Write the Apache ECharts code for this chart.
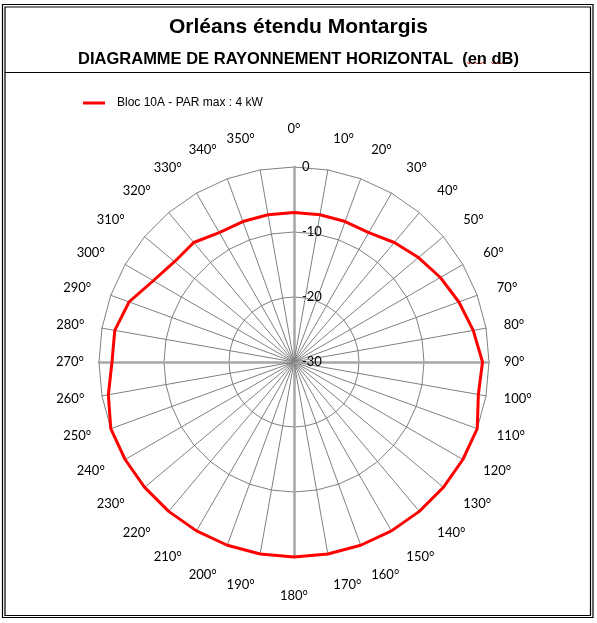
<!DOCTYPE html>
<html>
<head>
<meta charset="utf-8">
<script src="https://cdn.jsdelivr.net/npm/echarts@6/dist/echarts.min.js"></script>
<style>
html, body { margin: 0; padding: 0; background: #fff; }
#diagramme { width: 597px; height: 623px; }
</style>
</head>
<body>
<div id="diagramme"></div>
<script>
// libelles des azimuts (sens horaire depuis le nord)
var azimuts = ['0°', '10°', '20°', '30°', '40°', '50°', '60°', '70°', '80°',
               '90°', '100°', '110°', '120°', '130°', '140°', '150°', '160°', '170°',
               '180°', '190°', '200°', '210°', '220°', '230°', '240°', '250°', '260°',
               '270°', '280°', '290°', '300°', '310°', '320°', '330°', '340°', '350°'];
// attenuation en dB pour chaque azimut
var attenuation = [-7, -7, -7, -7, -6, -5, -4, -3, -2,
                   -1, -1.2, 0, 0, 0, 0, 0, 0, 0,
                   0, 0, 0, 0, 0, 0, 0, 0, -1,
                   -2, -2, -3, -5, -6, -6, -7, -7, -7];
// graduations de l'axe radial
var graduations = [-30, -20, -10, 0];
var nomSerie = 'Bloc 10A - PAR max : 4 kW';

var myChart = echarts.init(document.getElementById('diagramme'));

// le radar d'echarts tourne dans le sens trigo : on inverse l'ordre
var ordre = azimuts.map(function (a, i) { return (azimuts.length - i) % azimuts.length; });
var axesForts = [0, 9, 18, 27];

var indicateurs = ordre.map(function (k) {
    var theta = k * Math.PI * 2 / azimuts.length;
    var ind = {
        name: azimuts[k],
        min: graduations[0],
        max: graduations[graduations.length - 1],
        // libelles plus ecartes en haut et en bas, comme dans excel
        nameGap: 15 + 17 * Math.abs(Math.cos(theta))
    };
    if (axesForts.indexOf(k) >= 0) {
        ind.axisLine = { lineStyle: { color: '#a6a6a6', width: 2.5 } };
    }
    if (k === 0) {
        ind.axisLabel = {
            show: true, align: 'left', margin: -8,
            color: '#000', fontSize: 13, fontFamily: 'Lato'
        };
    }
    return ind;
});
var valeurs = ordre.map(function (k) { return attenuation[k]; });

// soulignement rouge ondule sous "en" et "dB"
function vague(x0, x1, y) {
    var pts = [], up = true;
    for (var x = x0; x <= x1; x += 2) {
        pts.push([x, up ? y - 1 : y + 1]);
        up = !up;
    }
    return pts;
}

var option = {
    backgroundColor: '#fff',
    animation: false,
    title: [
        {
            text: 'Orléans étendu Montargis',
            left: 'center', top: 12,
            textStyle: { fontFamily: 'Liberation Sans', fontSize: 21, fontWeight: 'bold', color: '#000' }
        },
        {
            text: 'DIAGRAMME DE RAYONNEMENT HORIZONTAL  (en dB)',
            left: 'center', top: 46,
            textStyle: { fontFamily: 'Liberation Sans', fontSize: 16.5, fontWeight: 'bold', color: '#000' }
        }
    ],
    legend: {
        data: [nomSerie],
        left: 78, top: 92,
        icon: 'rect', itemWidth: 22, itemHeight: 3,
        textStyle: { fontFamily: 'Liberation Sans', fontSize: 12, color: '#000', padding: [0, 0, 0, 7] }
    },
    radar: {
        center: [294, 362],
        radius: 195,
        startAngle: 90,
        splitNumber: 3,
        shape: 'polygon',
        indicator: indicateurs,
        nameGap: 22,
        axisName: { color: '#000', fontSize: 13, fontFamily: 'Lato' },
        axisLine: { lineStyle: { color: '#808080', width: 1 } },
        splitLine: { lineStyle: { color: '#808080', width: 1 } },
        splitArea: { show: false },
        axisTick: { show: false },
        axisLabel: { show: false }
    },
    series: [{
        type: 'radar',
        name: nomSerie,
        symbol: 'none',
        lineStyle: { color: '#ff0000', width: 3 },
        itemStyle: { color: '#ff0000' },
        data: [{ name: nomSerie, value: valeurs }]
    }],
    graphic: [
        { type: 'rect', shape: { x: 2.5, y: 4.5, width: 590.5, height: 613 }, style: { fill: null, stroke: '#000', lineWidth: 1.2 } },
        { type: 'rect', shape: { x: 5, y: 7, width: 585.5, height: 608.5 }, style: { fill: null, stroke: '#000', lineWidth: 1.2 } },
        { type: 'line', shape: { x1: 5, y1: 72.5, x2: 590.5, y2: 72.5 }, style: { stroke: '#000', lineWidth: 1.2 } },
        { type: 'polyline', shape: { points: vague(467, 485, 63) }, style: { stroke: '#e00000', lineWidth: 0.8, fill: null } },
        { type: 'polyline', shape: { points: vague(491, 512, 63) }, style: { stroke: '#e00000', lineWidth: 0.8, fill: null } }
    ]
};

myChart.setOption(option);
</script>
</body>
</html>
